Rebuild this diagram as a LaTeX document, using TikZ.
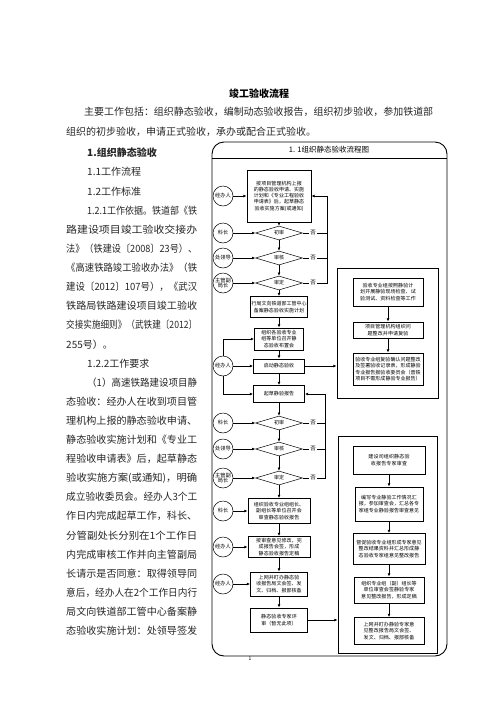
\documentclass[tikz,border=0pt]{standalone}
\usepackage{graphicx}
\usepackage{fontspec}
\setmainfont{Noto Sans CJK SC}
\XeTeXlinebreaklocale "zh"
\XeTeXlinebreakskip=0pt plus 0.1pt
\usetikzlibrary{arrows.meta}
\usetikzlibrary{shapes.geometric}

% one line of body text, set to a given width
\newcommand{\jline}[2]{\resizebox{#1}{\height}{#2}}

\begin{document}
\begin{tikzpicture}[
        x=1pt, y=-1pt,
        >={Latex[length=3.2pt,width=2.8pt]},
        every node/.style={font=\fontsize{5}{6.3}\selectfont},
        body/.style={anchor=west, inner sep=0pt, text=black!85,
            font=\fontsize{10}{12}\selectfont},
        flowbox/.style={draw, line width=0.8pt, align=center, inner sep=1pt},
        role/.style={draw, circle, line width=0.5pt, minimum size=20pt,
            inner sep=0pt, align=center, font=\fontsize{5.2}{5.8}\selectfont},
        check/.style={draw, diamond, aspect=3.4, line width=0.5pt,
            minimum width=47pt, minimum height=14pt, inner sep=0pt},
        reject/.style={inner sep=1.5pt, font=\fontsize{5.5}{6}\selectfont},
        groupbox/.style={draw, line width=0.8pt},
        link/.style={->, line width=0.7pt}
    ]

    \useasboundingbox (0,0) rectangle (496,702);

    % page text
    \node[font=\bfseries\fontsize{10}{12}\selectfont] (title) at (259,94) {竣工验收流程};
    \node[body] (intro1) at (84,112) {\jline{349pt}{主要工作包括：组织静态验收，编制动态验收报告，组织初步验收，参加铁道部}};
    \node[body] (intro2) at (66,132) {组织的初步验收，申请正式验收，承办或配合正式验收。};

    \node[body, font=\bfseries\fontsize{10}{12}\selectfont] (head1) at (87,153) {1.组织静态验收};
    \node[body] (head11) at (87,172.1) {1.1工作流程};
    \node[body] (head12) at (87,191.2) {1.2工作标准};
    \node[body] (basis) at (87,210.4) {\jline{110pt}{1.2.1工作依据。铁道部《铁}};
    \foreach \txt [count=\i from 4] in {
        路建设项目竣工验收交接办,
        法》（铁建设〔2008〕23号）、,
        《高速铁路竣工验收办法》（铁,
        建设〔2012〕107号），《武汉,
        铁路局铁路建设项目竣工验收,
        交接实施细则》（武铁建〔2012〕}
        \node[body] at (66,153+19.12*\i) {\jline{131pt}{\txt}};
    \node[body] (basisend) at (66,344.2) {255号）。};
    \node[body] (head122) at (87,363.3) {1.2.2工作要求};
    \node[body] (req1) at (87,382.4) {\jline{110pt}{（1）高速铁路建设项目静}};
    \foreach \txt [count=\i from 13] in {
        态验收：经办人在收到项目管,
        理机构上报的静态验收申请、,
        静态验收实施计划和《专业工,
        程验收申请表》后，起草静态,
        验收实施方案(或通知)，明确,
        成立验收委员会。经办人3个工,
        作日内完成起草工作，科长、,
        分管副处长分别在1个工作日,
        内完成审核工作并向主管副局,
        长请示是否同意：取得领导同,
        意后，经办人在2个工作日内行,
        局文向铁道部工管中心备案静,
        态验收实施计划：处领导签发}
        \node[body] at (66,153+19.12*\i) {\jline{131pt}{\txt}};

    % frame of the chart
    \draw[line width=0.9pt, rounded corners=12pt] (212,142) rectangle (447,656);
    \draw[line width=0.7pt] (212,158) -- (447,158);
    \node[font=\fontsize{7.5}{8}\selectfont] (charttitle) at (329,150) {1. 1组织静态验收流程图};
    \node (pagenum) at (250,659) {1};

    % main column
    \node[flowbox, text width=62pt, minimum height=52pt] (b1) at (279,196)
        {按项目管理机构上报的静态验收申请、实施计划和《专业工程验收申请表》后，起草静态验收实施方案(或通知)};
    \node[check] (d1) at (279,233) {初审};
    \node[check] (d2) at (279,258) {审核};
    \node[check] (d3) at (279,283) {审定};
    \node[flowbox, text width=55pt, minimum height=21pt] (b2) at (279,307)
        {行局文向铁道部工管中心备案静态验收实施计划};
    \node[flowbox, text width=47pt, minimum height=22pt] (b3) at (279,339)
        {组织各验收专业组等单位召开静态验收布置会};
    \node[flowbox, text width=49pt, minimum height=14pt] (b4) at (279,366) {启动静态验收};
    \node[flowbox, text width=49pt, minimum height=17pt] (b5) at (279,394) {起草静验报告};
    \node[check] (d4) at (279,423) {初审};
    \node[check] (d5) at (279,449) {审核};
    \node[check] (d6) at (279,478) {审定};
    \node[flowbox, text width=60pt, minimum height=25pt] (b6) at (279,511)
        {组织验收专业组组长、副组长等单位召开会审查静态验收报告};
    \node[flowbox, text width=60pt, minimum height=21pt] (b7) at (279,547)
        {按审查意见修改，完成报告会签，形成静态验收报告定稿};
    \node[flowbox, text width=55pt, minimum height=24pt] (b8) at (279,584)
        {上网并盯办静态验收报告局文会签、发文、归档、报部核备};
    \node[flowbox, text width=55pt, minimum height=24pt] (b9) at (279,620)
        {静态验收专家评审（暂无此项）};

    \foreach \a/\b in {b1/d1, d1/d2, d2/d3, d3/b2, b2/b3, b3/b4, b4/b5,
        b5/d4, d4/d5, d5/d6, d6/b6, b6/b7, b7/b8, b8/b9}
        \draw[link] (\a) -- (\b);

    % roles
    \node[role] (c1) at (223,196) {经办人};
    \node[role] (c2) at (223,233) {科长};
    \node[role] (c3) at (223,258) {处领导};
    \node[role] (c4) at (223,283) {主管副\\局长};
    \node[role] (c5) at (223,366) {经办人};
    \node[role] (c6) at (223,423) {科长};
    \node[role] (c7) at (223,449) {处领导};
    \node[role] (c8) at (223,478) {主管副\\局长};
    \node[role] (c9) at (223,511) {科长};
    \node[role] (c10) at (223,547) {经办人};
    \node[role] (c11) at (223,584) {经办人};

    \foreach \a/\b in {c1/b1, c2/d1, c3/d2, c4/d3, c5/b4, c6/d4, c7/d5,
        c8/d6, c9/b6, c10/b7, c11/b8}
        \draw[link] (\a) -- (\b);
    \draw[link] (c5.north) |- (b3.west);
    \draw[link] (c5.south) |- (b5.west);

    % going back when not agreed
    \coordinate (backup) at (327,196);
    \coordinate (backlow) at (325,394);
    \node[reject] (no1) at (313,233) {否};
    \node[reject] (no2) at (313,258) {否};
    \node[reject] (no3) at (313,283) {否};
    \node[reject] (no4) at (313,423) {否};
    \node[reject] (no5) at (313,449) {否};
    \node[reject] (no6) at (313,478) {否};
    \draw[line width=0.7pt] (d1) -- (no1) -- (no1 -| backup);
    \draw[line width=0.7pt] (d2) -- (no2) -- (no2 -| backup);
    \draw[line width=0.7pt] (d3) -- (no3);
    \draw[link] (no3) -| (backup) -- (b1);
    \draw[line width=0.7pt] (d4) -- (no4) -- (no4 -| backlow);
    \draw[line width=0.7pt] (d5) -- (no5) -- (no5 -| backlow);
    \draw[line width=0.7pt] (d6) -- (no6);
    \draw[link] (no6) -| (backlow) -- (b5);

    % on site checks
    \node[groupbox, minimum width=101pt, minimum height=130pt] (grpA) at (387.5,333) {};
    \node[flowbox, text width=68pt, minimum height=28pt] (r1) at (388,292)
        {验收专业组按照静验计划开展静验现场检查、试验测试、资料检查等工作};
    \node[flowbox, text width=68pt, minimum height=16pt] (r2) at (388,330)
        {项目管理机构组织问题整改并申请复验};
    \node[flowbox, text width=68pt, minimum height=32pt] (r3) at (388,369)
        {验收专业组复验确认问题整改及签署验收记录表，形成静验专业报告报验收委员会（普铁项目不需形成静验专业报告）};
    \draw[link] (r1) -- (r2);
    \draw[link] (r2) -- (r3);
    \draw[link] (b4) -- (b4 -| grpA.west);

    % expert review
    \node[groupbox, minimum width=99pt, minimum height=217pt] (grpB) at (387.5,544.5) {};
    \node[flowbox, text width=70pt, minimum height=28pt] (s1) at (389,460)
        {建设司组织静态验收报告专家审查};
    \node[flowbox, text width=66pt, minimum height=34pt] (s2) at (389,504)
        {编写专业静验工作情况汇报，参加审查会，汇总各专家组专业静验报告审查意见};
    \node[flowbox, text width=70pt, minimum height=31pt] (s3) at (389,549)
        {督促验收专业组形成专家意见整改结果资料并汇总形成静态验收专家组意见整改报告};
    \node[flowbox, text width=68pt, minimum height=26pt] (s4) at (389,590)
        {组织专业组（副）组长等单位审查会签静验专家意见整改报告，形成定稿};
    \node[flowbox, text width=68pt, minimum height=27pt] (s5) at (389,631)
        {上网并盯办静验专家意见整改报告局文会签、发文、归档、报部核备};
    \foreach \a/\b in {s1/s2, s2/s3, s3/s4, s4/s5}
        \draw[link] (\a) -- (\b);
    \draw[link] (b9) -- (b9 -| grpB.west);

\end{tikzpicture}
\end{document}
